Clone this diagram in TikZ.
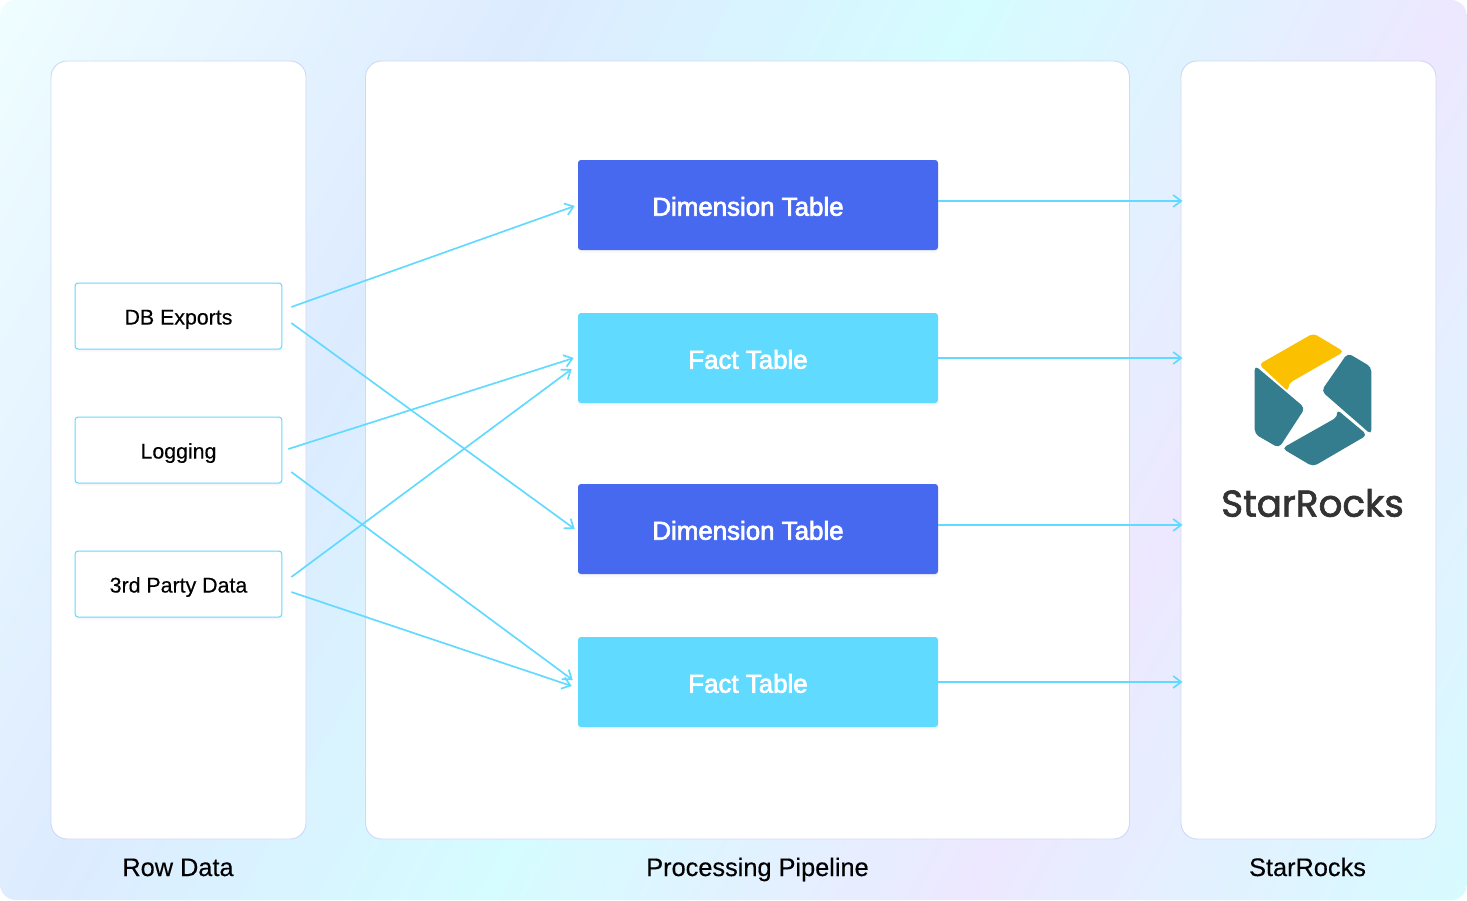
\documentclass[tikz,border=0pt]{standalone}
\usepackage{fontspec}
\setmainfont{Liberation Sans}
\newfontfamily\bodyfont{Liberation Sans}[FakeBold=0.3]
\newfontfamily\tablefont{Liberation Sans}[FakeBold=2.6]
\newfontfamily\logofont{Poppins}[FakeBold=1.8]
\usetikzlibrary{arrows.meta,shadows}

\definecolor{bgStart}{HTML}{F0FFFF}
\definecolor{bgBlue}{HTML}{DDEBFF}
\definecolor{bgCyan}{HTML}{D5FCFF}
\definecolor{bgLilac}{HTML}{EDE8FF}
\definecolor{dimBlue}{HTML}{4669EF}
\definecolor{factCyan}{HTML}{61DAFF}
\definecolor{panelLine}{HTML}{D0D8F5}
\definecolor{logoTeal}{HTML}{337D8E}
\definecolor{logoGold}{HTML}{FBC000}
\definecolor{logoText}{HTML}{333333}

\pgfdeclarehorizontalshading{bgshade}{100bp}{
  color(0bp)=(bgStart); color(14.7bp)=(bgStart); color(34.5bp)=(bgBlue);
  color(50bp)=(bgCyan); color(66.6bp)=(bgLilac); color(85bp)=(bgCyan); color(100bp)=(bgCyan)}

\tikzset{
  panel/.style={draw=panelLine, fill=white, rounded corners=12pt, line width=0.7pt,
    minimum height=583.5pt, inner sep=0pt},
  srcbox/.style={draw=factCyan, fill=white, rounded corners=2.2pt, line width=0.75pt,
    minimum width=155pt, minimum height=49.5pt, text height=12.8pt, text depth=0pt,
    font=\bodyfont\fontsize{16}{18}\selectfont,
    drop shadow={opacity=0.06, shadow xshift=0pt, shadow yshift=-2pt}},
  tablebox/.style={rounded corners=2.2pt, text=white, minimum width=270pt, minimum height=67.5pt,
    text height=16pt, text depth=0pt, font=\tablefont\fontsize{19.4}{22}\selectfont,
    execute at begin node={\hspace*{-15pt}},
    drop shadow={opacity=0.06, shadow xshift=0pt, shadow yshift=-2pt}},
  dimbox/.style={tablebox, fill=dimBlue},
  factbox/.style={tablebox, fill=factCyan},
  title/.style={text height=13.5pt, text depth=0pt, font=\bodyfont\fontsize{19}{22}\selectfont},
  flow/.style={draw=factCyan, line width=1.25pt, ->},
  >={Straight Barb[length=6pt, width=9pt, line width=1.25pt]}
}

\begin{document}
\begin{tikzpicture}[x=0.75pt, y=-0.75pt]
	\path[shading=bgshade, shading angle=-28.8, rounded corners=12pt] (0, 0) rectangle (1467, 900);

	\node[panel, minimum width=191.25pt] (rowPanel) at (178.5, 450) {};
	\node[panel, minimum width=573pt] (pipePanel) at (747.5, 450) {};
	\node[panel, minimum width=191.25pt] (rocksPanel) at (1308.5, 450) {};

	\node[title] (rowTitle) at (178, 867) {Row Data};
	\node[title] (pipeTitle) at (757.5, 867) {Processing Pipeline};
	\node[title] (rocksTitle) at (1307.5, 867) {StarRocks};

	\node[srcbox] (db) at (178.5, 316) {DB Exports};
	\node[srcbox] (logging) at (178.5, 450) {Logging};
	\node[srcbox] (third) at (178.5, 584) {3rd Party Data};

	\node[dimbox] (dimA) at (758, 205) {Dimension Table};
	\node[factbox] (factA) at (758, 358) {Fact Table};
	\node[dimbox] (dimB) at (758, 529) {Dimension Table};
	\node[factbox] (factB) at (758, 682) {Fact Table};

	\draw[flow] ([shift={(9, -9)}]db.east) -- ([shift={(-3, 1)}]dimA.west);
	\draw[flow] ([shift={(9, 7)}]db.east) -- ([shift={(-3, 0)}]dimB.west);
	\draw[flow] ([shift={(6, -1)}]logging.east) -- ([shift={(-4, 0)}]factA.west);
	\draw[flow] ([shift={(9, 22)}]logging.east) -- ([shift={(-5, -2)}]factB.west);
	\draw[flow] ([shift={(9, -7)}]third.east) -- ([shift={(-6, 11)}]factA.west);
	\draw[flow] ([shift={(9, 8)}]third.east) -- ([shift={(-6, 4)}]factB.west);

	\draw[flow] ([shift={(0, -4)}]dimA.east) -- ([shift={(2, -4)}]dimA.east -| rocksPanel.west);
	\draw[flow] (factA.east) -- ([shift={(2, 0)}]factA.east -| rocksPanel.west);
	\draw[flow] ([shift={(0, -4)}]dimB.east) -- ([shift={(2, -4)}]dimB.east -| rocksPanel.west);
	\draw[flow] (factB.east) -- ([shift={(2, 0)}]factB.east -| rocksPanel.west);

	\begin{scope}[shift={(1190, 320)}, x=0.25pt, y=-0.25pt]
		\fill[logoGold, rounded corners=3pt] (207, 133) -- (370, 40) -- (462, 95) -- (296, 190) -- (295, 215) -- cycle;
		\fill[logoTeal, rounded corners=3.5pt] (194, 136) -- (345, 264) -- (267, 384) -- (194, 342) -- cycle;
		\fill[logoTeal, rounded corners=3.5pt] (473, 99) -- (544, 141) -- (544, 344) -- (394, 213) -- cycle;
		\fill[logoTeal, rounded corners=3.5pt] (276, 385) -- (444, 290) -- (440, 268) -- (532, 345) -- (369, 440) -- cycle;
	\end{scope}
	\node[text=logoText, font=\logofont\fontsize{28}{32}\selectfont] (logoName) at (1312.5, 503) {StarRocks};
\end{tikzpicture}
\end{document}
